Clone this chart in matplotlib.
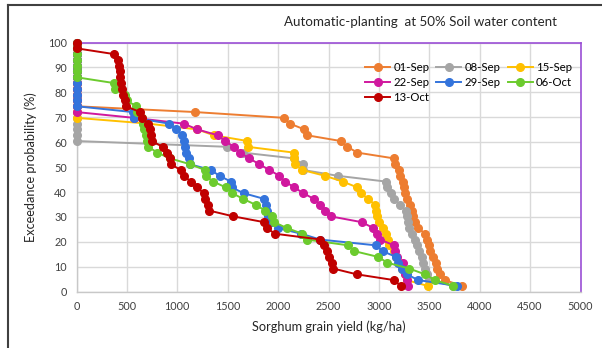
import matplotlib
matplotlib.use('Agg')
import matplotlib.pyplot as plt
from matplotlib.lines import Line2D

plt.rcParams['font.family'] = ['Lato', 'DejaVu Sans']

# exceedance probability levels (%), shared by all sowing dates
prob = [100.0, 97.67, 95.35, 93.02, 90.70, 88.37, 86.05, 83.72, 81.40, 79.07,
        76.74, 74.42, 72.09, 69.77, 67.44, 65.12, 62.79, 60.47, 58.14, 55.81,
        53.49, 51.16, 48.84, 46.51, 44.19, 41.86, 39.53, 37.21, 34.88, 32.56,
        30.23, 27.91, 25.58, 23.26, 20.93, 18.60, 16.28, 13.95, 11.63, 9.30,
        6.98, 4.65, 2.33]

# sorted grain yield (kg/ha) per sowing date
yld_01sep = [0] * 12 + [1176, 2059, 2118, 2260, 2284, 2621, 2687, 2786, 3150,
                        3160, 3199, 3209, 3242, 3249, 3255, 3276, 3309, 3325, 3341, 3358,
                        3391, 3457, 3474, 3500, 3507, 3540, 3565, 3573, 3606, 3656, 3821]
yld_08sep = [0] * 18 + [1496, 1650, 2158, 2244, 2250, 2591, 3070, 3083, 3117, 3150,
                        3209, 3269, 3282, 3292, 3295, 3330, 3358, 3375, 3401, 3425,
                        3441, 3457, 3481, 3500, 3738]
yld_15sep = [0] * 14 + [712, 1199, 1360, 1695, 1698, 2158, 2160, 2164, 2240, 2465,
                        2641, 2786, 2819, 2895, 2961, 2971, 2985, 3004, 3044, 3070,
                        3094, 3104, 3150, 3170, 3200, 3230, 3255, 3276, 3484]
yld_22sep = [0] * 13 + [570, 1063, 1199, 1400, 1473, 1563, 1622, 1714, 1813, 1913,
                        2012, 2068, 2161, 2250, 2356, 2420, 2470, 2522, 2829, 2944,
                        2984, 3011, 3150, 3160, 3176, 3236, 3249, 3262, 3275, 3292]
yld_29sep = [0] * 12 + [557, 570, 921, 990, 1050, 1065, 1076, 1086, 1115, 1126,
                        1330, 1420, 1530, 1540, 1658, 1865, 1880, 1890, 1903, 1925,
                        1995, 2230, 2416, 2971, 3037, 3170, 3185, 3230, 3276, 3391, 3772]
yld_06oct = [0] * 7 + [372, 385, 481, 498, 592, 603, 647, 657, 670, 685,
                       695, 712, 802, 928, 1126, 1275, 1281, 1357, 1480, 1546,
                       1655, 1777, 1870, 1936, 1959, 2085, 2240, 2284, 2696, 2756,
                       2994, 3083, 3300, 3457, 3556, 3738]
yld_13oct = [0] * 2 + [372, 410, 425, 431, 435, 445, 455, 465, 481, 490,
                       630, 647, 712, 729, 736, 745, 855, 898, 928, 935,
                       1034, 1066, 1133, 1192, 1265, 1278, 1300, 1315, 1556, 1860,
                       1887, 1969, 2420, 2455, 2482, 2508, 2531, 2545, 2780, 3150, 3216]

dates = ['01-Sep', '08-Sep', '15-Sep', '22-Sep', '29-Sep', '06-Oct', '13-Oct']
series = [yld_01sep, yld_08sep, yld_15sep, yld_22sep, yld_29sep, yld_06oct, yld_13oct]
colors = ['#ED7D31', '#A5A5A5', '#FFC000', '#D0189E', '#3474DC', '#6CCB2E', '#C00000']

fig = plt.figure(figsize=(6.02, 3.48), dpi=100)
ax = fig.add_axes([76.5 / 602, 1 - 291.7 / 348, 504 / 602, 249.2 / 348])

handles = []
for name, x, c in zip(dates, series, colors):
    h, = ax.plot(x, prob, '-o', color=c, lw=1.4, ms=5.5, label=name,
                 clip_on=False, zorder=3)
    handles.append(h)

ax.set_xlim(0, 5000)
ax.set_ylim(0, 100)
ax.set_xticks(range(0, 5001, 500))
ax.set_yticks(range(0, 101, 10))
ax.grid(True, color='#d9d9d9', lw=1)
ax.set_axisbelow(True)
ax.tick_params(length=0, labelsize=7.8, labelcolor='#404040', pad=7)

for side in ['top', 'right']:
    ax.spines[side].set_color('#9b4fd6')
    ax.spines[side].set_linewidth(1.2)
for side in ['left', 'bottom']:
    ax.spines[side].set_color('#c8c8c8')
    ax.spines[side].set_linewidth(1.0)

ax.set_xlabel('Sorghum grain yield (kg/ha)', fontsize=9.2, color='#262626', labelpad=6)
ax.set_ylabel('Exceedance probability (%)', fontsize=9.2, color='#262626', labelpad=8)

# legend laid out row-wise like the original
order = [0, 3, 6, 1, 4, 2, 5]
ax.legend([handles[i] for i in order], [dates[i] for i in order],
          ncol=3, frameon=False, fontsize=8.2, loc='upper left',
          bbox_to_anchor=(365 / 602, 1 - 62 / 348), bbox_transform=fig.transFigure,
          handlelength=2.2, handletextpad=0.3, columnspacing=0.6,
          labelspacing=0.35, borderaxespad=0, borderpad=0)

fig.text(420 / 602, 1 - 22 / 348, 'Automatic-planting  at 50% Soil water content',
         ha='center', va='center', fontsize=9.6, color='#262626')

# outer frame (top and left edges visible in the original)
fig.add_artist(Line2D([8 / 602, 1], [1 - 5 / 348, 1 - 5 / 348],
                      transform=fig.transFigure, color='#404040', lw=1.5))
fig.add_artist(Line2D([8 / 602, 8 / 602], [0, 1 - 5 / 348],
                      transform=fig.transFigure, color='#404040', lw=1.5))

fig.savefig('out.png', dpi=100)
